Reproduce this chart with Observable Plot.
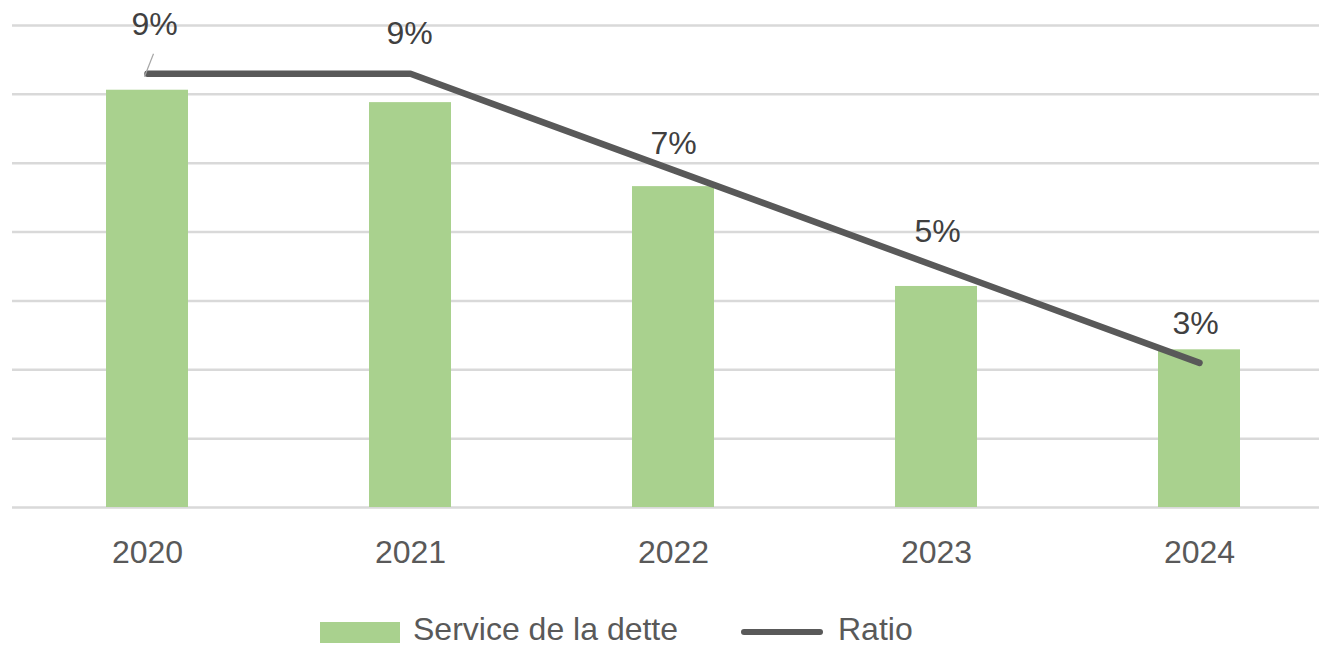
<!DOCTYPE html>
<html>
<head>
<meta charset="utf-8">
<script src="https://cdn.jsdelivr.net/npm/d3@7"></script>
<script src="https://cdn.jsdelivr.net/npm/@observablehq/plot@0.6"></script>
<style>
  html, body { margin: 0; padding: 0; background: #fff; }
  body { width: 1319px; height: 647px; overflow: hidden; font-family: "Liberation Sans", Arial, sans-serif; }
  #legend { position: relative; width: 1319px; height: 47px; }
  #legend .sw-bar { position: absolute; left: 320px; top: 22px; width: 80px; height: 21px; background: #A9D18E; }
  #legend .sw-line { position: absolute; left: 741px; top: 29px; width: 82px; height: 6px; border-radius: 3px; background: #595959; }
  #legend .lab { position: absolute; top: 13px; font-size: 32px; line-height: 32px; color: #595959; white-space: nowrap; }
</style>
</head>
<body>
<div id="chart"></div>
<div id="legend">
  <div class="sw-bar"></div><span class="lab" style="left:413px">Service de la dette</span>
  <div class="sw-line"></div><span class="lab" style="left:838px">Ratio</span>
</div>
<script>
// ---- data ----
const years = ["2020", "2021", "2022", "2023", "2024"];
const debtService = [6.06, 5.88, 4.66, 3.21, 2.29];   // primary axis (grid units, unlabeled)
const ratio = [9, 9, 7, 5, 3];                          // secondary axis, percent (0–10%)
const gridTicks = [0, 1, 2, 3, 4, 5, 6, 7];
const ratioLabels = ["9%", "9%", "7%", "5%", "3%"];

// secondary axis 0–10% mapped onto primary 0–7
const secondaryFactor = 7 / 10;

const data = years.map((year, i) => ({year, debt: debtService[i], ratio: ratio[i], label: ratioLabels[i]}));

// label nudges (pixels) to follow the reference placement
const nudges = {"2020": [7, -49], "2021": [-1, -40], "2022": [0, -26], "2023": [1, -35], "2024": [-4, -39]};

const labelMarks = years.map(y => Plot.text(data.filter(d => d.year === y), {
  x: "year",
  y: d => d.ratio * secondaryFactor,
  text: "label",
  dx: nudges[y][0],
  dy: nudges[y][1],
  fill: "#404040",
  fontSize: 32,
  textAnchor: "middle"
}));

const chart = Plot.plot({
  width: 1319,
  height: 600,
  marginLeft: 12,
  marginRight: 0,
  marginTop: 25,
  marginBottom: 93,
  style: {fontFamily: "'Liberation Sans', Arial, sans-serif", fontSize: "32px", color: "#595959", background: "#fff"},
  x: {type: "band", domain: years, range: [15, 1330], paddingInner: 0.69, paddingOuter: 0.345, tickSize: 0, tickPadding: 33, label: null},
  y: {domain: [0, 7], axis: null},
  marks: [
    Plot.ruleY(gridTicks, {stroke: "#D9D9D9", strokeWidth: 2.5}),
    Plot.barY(data, {x: "year", y: "debt", fill: "#A9D18E"}),
    Plot.line(data, {x: "year", y: d => d.ratio * secondaryFactor, stroke: "#595959", strokeWidth: 6.5, strokeLinejoin: "round", strokeLinecap: "round"}),
    Plot.dot(data.filter(d => d.year === "2020"), {
      x: "year",
      y: d => d.ratio * secondaryFactor,
      symbol: {draw(ctx) { ctx.moveTo(-3, 3); ctx.lineTo(6, -20); }},
      fill: "none",
      stroke: "#A6A6A6",
      strokeWidth: 1.2
    }),
    ...labelMarks
  ]
});
document.getElementById("chart").appendChild(chart);
</script>
</body>
</html>
